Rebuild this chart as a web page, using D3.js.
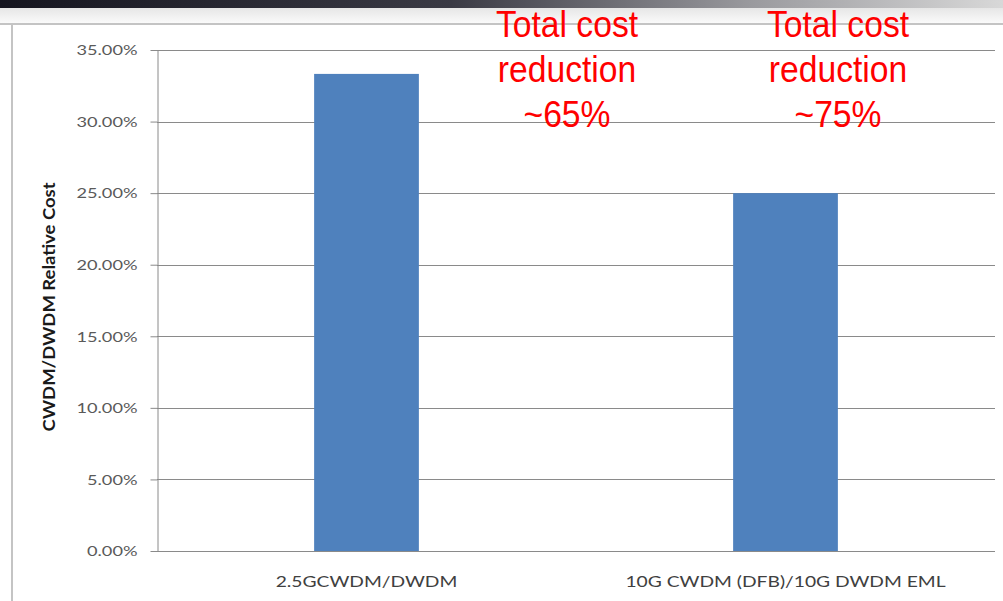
<!DOCTYPE html>
<html><head><meta charset="utf-8">
<script src="https://cdn.jsdelivr.net/npm/d3@7"></script>
<style>body{margin:0;background:#fff}svg{display:block}</style>
</head><body>
<svg id="c" width="1003" height="601"></svg>
<script>
const categories = ["2.5GCWDM/DWDM", "10G CWDM (DFB)/10G DWDM EML"];
const values = [0.3333, 0.25];
const yTicks = [0, 0.05, 0.10, 0.15, 0.20, 0.25, 0.30, 0.35];
const yTitle = "CWDM/DWDM Relative Cost";
const notes = [["Total cost", "reduction", "~65%"], ["Total cost", "reduction", "~75%"]];

const svg = d3.select("#c");
const defs = svg.append("defs");
const g1 = defs.append("linearGradient").attr("id", "topbar");
g1.append("stop").attr("offset", "0%").attr("stop-color", "#15151f");
g1.append("stop").attr("offset", "45%").attr("stop-color", "#3a3a44");
g1.append("stop").attr("offset", "75%").attr("stop-color", "#9a9a9e");
g1.append("stop").attr("offset", "100%").attr("stop-color", "#d8d8d8");
const g2 = defs.append("linearGradient").attr("id", "band").attr("x1", 0).attr("x2", 0).attr("y1", 0).attr("y2", 1);
g2.append("stop").attr("offset", "0%").attr("stop-color", "#e6e6e6");
g2.append("stop").attr("offset", "100%").attr("stop-color", "#fafafa");

svg.append("rect").attr("x", 0).attr("y", 0).attr("width", 1003).attr("height", 8).attr("fill", "url(#topbar)");
svg.append("rect").attr("x", 0).attr("y", 8).attr("width", 1003).attr("height", 15).attr("fill", "url(#band)");
// chart frame
svg.append("line").attr("x1", 0).attr("x2", 1003).attr("y1", 24).attr("y2", 24).attr("stroke", "#c4c4c4").attr("stroke-width", 2);
svg.append("line").attr("x1", 12).attr("x2", 12).attr("y1", 24).attr("y2", 601).attr("stroke", "#c4c4c4").attr("stroke-width", 2);

const L = 157, R = 995, T = 50, B = 551;
const y = d3.scaleLinear().domain([0, 0.35]).range([B, T]);
const x = d3.scaleBand().domain(categories).range([L, R]).padding(0);

// gridlines
svg.append("g").selectAll("line").data(yTicks).join("line")
  .attr("x1", L).attr("x2", R)
  .attr("y1", d => Math.round(y(d)) + 0.5).attr("y2", d => Math.round(y(d)) + 0.5)
  .attr("stroke", "#8a8a8a").attr("stroke-width", 1);

// bars
const bw = x.bandwidth() * 0.25;
svg.append("g").selectAll("rect").data(categories).join("rect")
  .attr("x", d => x(d) + (x.bandwidth() - bw) / 2)
  .attr("width", bw)
  .attr("y", (d, i) => y(values[i]))
  .attr("height", (d, i) => B - y(values[i]))
  .attr("fill", "#4f81bd");

// y axis
const sx = 1.3;
const ya = svg.append("g").attr("transform", `translate(${L + 0.5},0)`)
  .call(d3.axisLeft(y).tickValues(yTicks).tickFormat(d3.format(".2%")).tickSize(7).tickSizeOuter(0));
ya.select(".domain").attr("stroke", "#8a8a8a");
ya.selectAll(".tick line").attr("stroke", "#8a8a8a");
ya.selectAll(".tick text")
  .attr("x", -20 / sx).attr("dy", "0.34em")
  .attr("transform", `scale(${sx},1)`)
  .attr("fill", "#5a5a5a")
  .style("font-family", "Lato, 'Open Sans', sans-serif").style("font-size", "14px");

// x axis line
svg.append("line").attr("x1", L).attr("x2", R).attr("y1", B + 0.5).attr("y2", B + 0.5).attr("stroke", "#8a8a8a");

// category labels
svg.append("g").selectAll("text").data(categories).join("text")
  .attr("transform", d => `translate(${x(d) + x.bandwidth() / 2},587) scale(1.3,1)`)
  .attr("text-anchor", "middle")
  .attr("fill", "#404040")
  .style("font-family", "Lato, 'Open Sans', sans-serif").style("font-size", "14.8px")
  .text(d => d);

// y title
svg.append("text")
  .attr("transform", `translate(55,307) scale(1.3,1) rotate(-90)`)
  .attr("text-anchor", "middle")
  .attr("textLength", 249).attr("lengthAdjust", "spacingAndGlyphs")
  .attr("fill", "#1a1a1a")
  .style("font-family", "Lato, 'Open Sans', sans-serif").style("font-size", "13.5px").style("font-weight", "bold")
  .text(yTitle);

// red annotations
const noteX = [567, 838];
const lineY = [37, 82, 127];
notes.forEach((lines, i) => {
  const gg = svg.append("g").attr("transform", `translate(${noteX[i]},0) scale(0.91,1)`);
  gg.selectAll("text").data(lines).join("text")
    .attr("x", 0).attr("y", (d, j) => lineY[j])
    .attr("text-anchor", "middle")
    .attr("fill", "#ff0000")
    .style("font-family", "'Liberation Sans', Arial, sans-serif").style("font-size", "37px")
    .text(d => d);
});
</script>
</body></html>
